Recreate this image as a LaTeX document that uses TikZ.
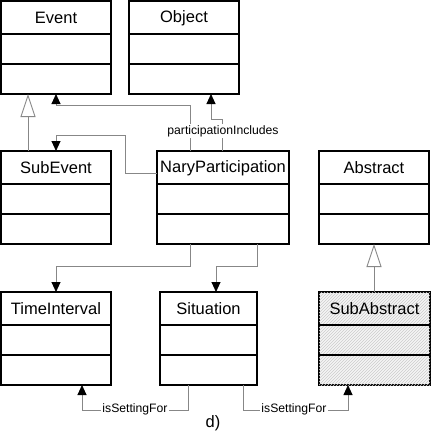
\documentclass[tikz,border=0pt]{standalone}
\usepackage{fontspec}
\setmainfont{Liberation Sans}
\usetikzlibrary{arrows.meta,patterns}
\definecolor{conncol}{RGB}{135,135,135}
\tikzset{
  cls/.style={draw=black, line width=1.5pt, fill=white, minimum width=#1, minimum height=93pt,
              anchor=north west, inner sep=0pt, outer sep=0pt},
  hatched/.style={fill=gray!8, postaction={pattern=north east lines, pattern color=gray!40}},
  sepline/.style={draw=black, line width=1.6pt},
  title/.style={font=\fontsize{16.5}{18}\selectfont, inner sep=0pt},
  conn/.style={draw=conncol, line width=0.9pt},
  assoc/.style={conn, -{Triangle[length=10pt,width=9pt,fill=black,color=black]}},
  gen/.style={conn, -{Triangle[length=23pt,width=15pt,fill=white]}},
  lbl/.style={font=\fontsize{12.2}{14}\selectfont, fill=white, inner sep=1pt},
}
\newcommand\umlclass[6][]{%
  \node[cls={#5},#1] (#2) at (#3,#4) {};
  \draw[sepline] ([yshift=-33pt]#2.north west) -- ([yshift=-33pt]#2.north east);
  \draw[sepline] ([yshift=-63pt]#2.north west) -- ([yshift=-63pt]#2.north east);
  \node[title] (#2-t) at ([yshift=-17pt]#2.north) {#6};
}
\begin{document}
\begin{tikzpicture}[x=1pt,y=-1pt]
\useasboundingbox (0,0) rectangle (431,431);
% classes
\umlclass{event}{1}{1}{110pt}{Event}
\umlclass{object}{129}{1}{110pt}{Object}
\umlclass{subevent}{1}{151}{110pt}{SubEvent}
\umlclass{nary}{157}{151}{132pt}{NaryParticipation}
\umlclass{abstract}{319}{151}{110pt}{Abstract}
\umlclass{timeint}{1}{292}{110pt}{TimeInterval}
\umlclass{situation}{160}{292}{97pt}{Situation}
\umlclass[hatched]{subabstract}{319}{292}{111pt}{SubAbstract}
% generalizations
\draw[gen] ([xshift=27pt]subevent.north west) -- ([xshift=27pt]event.south west);
\draw[gen] ([xshift=55pt]subabstract.north west) -- ([xshift=55pt]abstract.south west);
% associations
\draw[assoc] ([xshift=33pt]nary.north west) -- ([xshift=33pt,yshift=46pt]nary.north west)
  -| ([xshift=55pt]event.south west);
\draw[assoc] ([xshift=65pt]nary.north west) -- ([xshift=65pt,yshift=32pt]nary.north west)
  -| ([xshift=82pt]object.south west);
\draw[assoc] ([yshift=-22pt]nary.north west) -| ([xshift=124pt,yshift=16pt]subevent.north west)
  -| ([xshift=55pt]subevent.north west);
\draw[assoc] ([xshift=33pt]nary.south west) -- ([xshift=33pt,yshift=-22pt]nary.south west)
  -| ([xshift=55pt]timeint.north west);
\draw[assoc] ([xshift=100pt]nary.south west) -- ([xshift=100pt,yshift=-22pt]nary.south west)
  -| ([xshift=56pt]situation.north west);
\draw[assoc] ([xshift=28pt]situation.south west) -- ([xshift=28pt,yshift=-25pt]situation.south west)
  -| ([xshift=81pt]timeint.south west);
\draw[assoc] ([xshift=83pt]situation.south west) -- ([xshift=83pt,yshift=-25pt]situation.south west)
  -| ([xshift=29pt]subabstract.south west);
% labels
\node[lbl] (lpart) at (223,131) {participationIncludes};
\node[lbl] (lset1) at (135,409) {isSettingFor};
\node[lbl] (lset2) at (294,409) {isSettingFor};
\node[title] (cap) at (213,423) {d)};
\end{tikzpicture}
\end{document}
